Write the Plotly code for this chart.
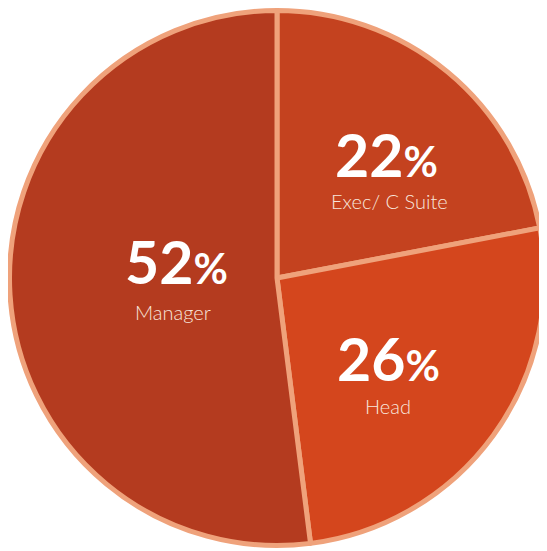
import plotly.graph_objects as go

labels = ["Exec/ C Suite", "Head", "Manager"]
values = [22, 26, 52]
slice_colors = ["#C4421F", "#D4461D", "#B43B1F"]
border_color = "#EFA27B"

W, H = 547, 551
OFF = 8  # page body margin in the rendered html
cx, cy, r = 277 - OFF, 278 - OFF, 267.5  # pixel centre (from top) and radius of pie

fig = go.Figure(go.Pie(
    labels=labels,
    values=values,
    sort=False,
    direction="clockwise",
    rotation=0,
    textinfo="none",
    hoverinfo="label+percent",
    marker=dict(colors=slice_colors, line=dict(color=border_color, width=5)),
    domain=dict(x=[(cx - r) / W, (cx + r) / W],
                y=[(H - cy - r) / H, (H - cy + r) / H]),
    showlegend=False,
))

# text positions (pixels from top-left of the screenshot) for each slice label
num_pos = [(386, 154), (388, 358), (176, 262)]
lab_pos = [(389, 201), (388, 406), (173, 312)]

for lab, val, (nx, ny), (lx, ly) in zip(labels, values, num_pos, lab_pos):
    fig.add_annotation(
        x=(nx - OFF) / W, y=1 - (ny - OFF) / H, xref="paper", yref="paper",
        text=f"<b>{val}<span style='font-size:42px'>%</span></b>",
        showarrow=False, xanchor="center", yanchor="middle",
        font=dict(family="Lato", size=59, color="white"),
    )
    fig.add_annotation(
        x=(lx - OFF) / W, y=1 - (ly - OFF) / H, xref="paper", yref="paper",
        text=lab, showarrow=False, xanchor="center", yanchor="middle",
        font=dict(family="Lato Light, Lato", size=20, color="#F8E6DC", weight=300),
    )

fig.update_layout(
    width=W, height=H,
    margin=dict(l=0, r=0, t=0, b=0),
    paper_bgcolor="white", plot_bgcolor="white",
)

fig.write_html("out.html")
